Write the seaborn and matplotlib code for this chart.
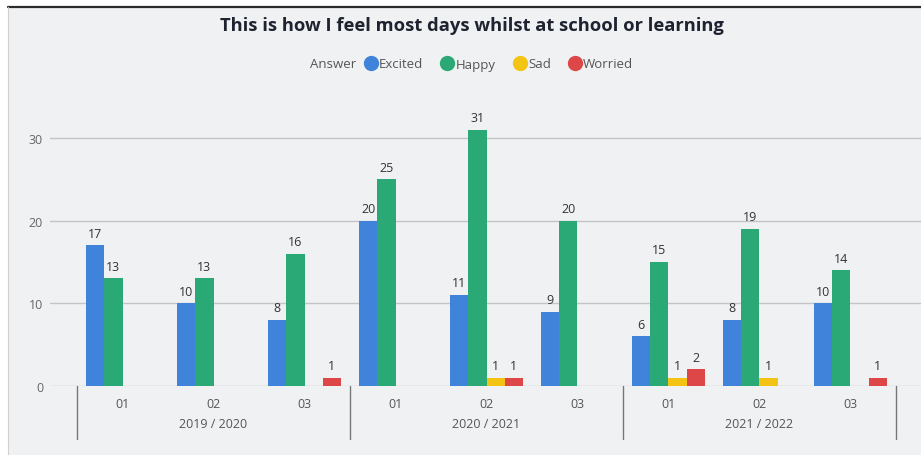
import numpy as np
import pandas as pd
import matplotlib
matplotlib.use('Agg')
import matplotlib.pyplot as plt
import seaborn as sns
from matplotlib.lines import Line2D
from matplotlib.patches import Rectangle

# data
years = ["2019 / 2020", "2020 / 2021", "2021 / 2022"]
terms = ["01", "02", "03"]
answers = ["Excited", "Happy", "Sad", "Worried"]
excited = [17, 10, 8, 20, 11, 9, 6, 8, 10]
happy = [13, 13, 16, 25, 31, 20, 15, 19, 14]
sad = [0, 0, 0, 0, 1, 0, 1, 1, 0]
worried = [0, 0, 1, 0, 1, 0, 2, 0, 1]
colors = ["#3f83db", "#2aa876", "#f3c414", "#de4747"]

periods = [y + " " + t for y in years for t in terms]
rows = []
for ans, vals in zip(answers, [excited, happy, sad, worried]):
    for p, v in zip(periods, vals):
        rows.append({"period": p, "Answer": ans, "count": v})
df = pd.DataFrame(rows)

sns.set_style("white")
plt.rcParams['font.family'] = ['Open Sans', 'DejaVu Sans']

fig = plt.figure(figsize=(9.21, 4.56), dpi=100)
W, H = 921, 456
# panel background + border
fig.patches.append(Rectangle((8 / W, 0), 1, 448 / H, transform=fig.transFigure,
                             facecolor="#eff1f3", edgecolor="none", zorder=-5))
fig.add_artist(Line2D([8 / W, 1], [448 / H, 448 / H], color="#2b2b2b", lw=1.6))
fig.add_artist(Line2D([8 / W, 8 / W], [0, 448 / H], color="#d0d0d0", lw=0.8))

ax = fig.add_axes([50 / W, (H - 387) / H, 871 / W, 292 / H])
ax.patch.set_alpha(0)

sns.barplot(data=df, x="period", y="count", hue="Answer", order=periods,
            hue_order=answers, palette=colors, width=0.8, errorbar=None,
            legend=False, ax=ax, saturation=1, linewidth=0)

for cont in ax.containers:
    labs = [str(int(b.get_height())) if b.get_height() > 0 else "" for b in cont]
    ax.bar_label(cont, labels=labs, padding=4, fontsize=9, color="#333333")

ax.set_xlim(-0.797, 8.775)
ax.set_ylim(0, 35.3)
ax.set_yticks([0, 10, 20, 30])
ax.tick_params(axis='y', length=0, labelsize=9, labelcolor="#666666", pad=5)
ax.yaxis.grid(True, color="#c4c4c4", lw=1)
ax.set_axisbelow(True)
for s in ax.spines.values():
    s.set_visible(False)
ax.set_xlabel("")
ax.set_ylabel("")
ax.set_xticks(range(9))
ax.set_xticklabels(terms * 3)
ax.tick_params(axis='x', length=0, labelsize=9, labelcolor="#555555", pad=8)

# year labels and separators
trans = ax.get_xaxis_transform()
for i, yr in enumerate(years):
    ax.text(3 * i + 1, -0.13, yr, transform=trans, ha="center", va="center",
            fontsize=9, color="#555555")
for xb in [-0.5, 2.5, 5.5, 8.5]:
    ax.plot([xb, xb], [0, -0.18], transform=trans, color="#777777", lw=1, clip_on=False)

fig.text(472 / W, 1 - 26 / H, "This is how I feel most days whilst at school or learning",
         ha="center", va="center", fontsize=13.2, fontweight="bold", color="#1f2330")
fig.text(356 / W, 1 - 65 / H, "Answer", ha="right", va="center", fontsize=9.5, color="#555555")
handles = [Line2D([], [], marker="o", ls="", markersize=10, color=c) for c in colors]
fig.legend(handles, answers, loc="center left", bbox_to_anchor=(364 / W, 1 - 65 / H),
           ncol=4, frameon=False, fontsize=9.5, handletextpad=0.15, columnspacing=1.3,
           handlelength=1.0, borderaxespad=0, borderpad=0, labelcolor="#555555")

fig.savefig("out.png", dpi=100)
